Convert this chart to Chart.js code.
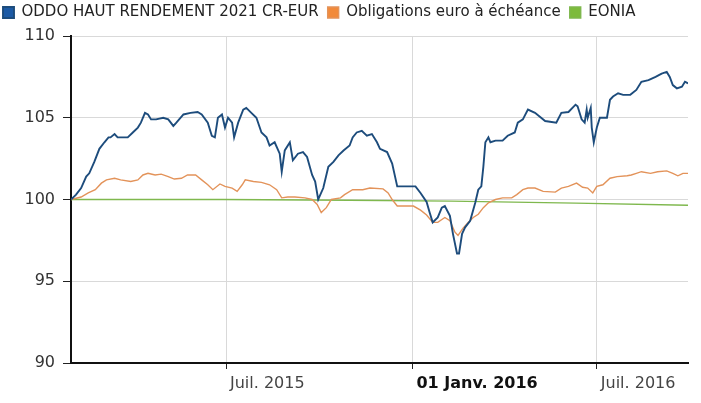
<!DOCTYPE html>
<html>
<head>
<meta charset="utf-8">
<script src="https://cdn.jsdelivr.net/npm/chart.js@4"></script>
<style>
  html, body { margin: 0; padding: 0; background: #fff; }
  #wrap { width: 701px; height: 403px; }
</style>
</head>
<body>
<div id="wrap"><canvas id="perfChart" width="701" height="403"></canvas></div>
<script>
// days counted from 29 Jan 2015
const tickDays = [153, 337, 519];
const tickLabels = ['Juil. 2015', '01 Janv. 2016', 'Juil. 2016'];

const oddoDays = [0, 5, 10, 15, 18, 23, 28, 33, 37, 39, 43, 46, 49, 56, 61, 66, 69, 73, 76, 79, 84, 91, 96, 101, 104, 111, 118, 125,
    129, 135, 139, 142, 145, 149, 152, 155, 159, 161, 165, 170, 173, 178, 183, 188, 193, 196, 201, 206, 208, 211, 216, 219, 224, 229,
    233, 238, 241, 244, 249, 254, 259, 264, 269, 275, 278, 282, 287, 292, 297, 302, 305, 312, 317, 322, 331, 340, 345, 351, 354, 357,
    362, 366, 369, 374, 377, 381, 383, 386, 389, 394, 399, 402, 405, 407, 409, 412, 414, 419, 426, 431, 438, 441, 446, 451, 458, 468,
    479, 484, 491, 498, 500, 504, 507, 509, 510, 513, 514, 516, 519, 522, 529, 532, 535, 540, 545, 552, 558, 563, 570, 577, 583, 588,
    591, 594, 598, 603, 606, 609];
const oddoValues = [100.0, 100.3, 100.7, 101.4, 101.6, 102.3, 103.1, 103.5, 103.8, 103.8, 104.0, 103.8, 103.8, 103.8, 104.1, 104.4,
    104.7, 105.3, 105.2, 104.9, 104.9, 105.0, 104.9, 104.5, 104.7, 105.2, 105.3, 105.35,
    105.2, 104.7, 103.9, 103.8, 105.0, 105.2, 104.4, 105.0, 104.7, 103.8, 104.7, 105.5, 105.6, 105.3, 105.0, 104.1, 103.8, 103.3, 103.5,
    102.8, 101.7, 103.0, 103.5, 102.4, 102.8, 102.9,
    102.6, 101.5, 101.1, 100.0, 100.7, 102.0, 102.3, 102.7, 103.0, 103.3, 103.8, 104.1, 104.2, 103.9, 104.0, 103.5, 103.1, 102.9, 102.2,
    100.8, 100.8, 100.8, 100.4, 99.85, 99.2, 98.6,
    98.9, 99.5, 99.6, 99.0, 97.9, 96.7, 96.7, 97.9, 98.3, 98.7, 99.8, 100.6, 100.8, 102.0, 103.5, 103.8, 103.5, 103.6, 103.6, 103.9,
    104.1, 104.7, 104.9, 105.5, 105.3, 104.8,
    104.7, 105.3, 105.35, 105.8, 105.7, 104.9, 104.7, 105.5, 105.0, 105.6, 104.4, 103.5, 104.4, 105.0, 105.0, 106.1, 106.3, 106.5,
    106.4, 106.4, 106.7, 107.2, 107.3, 107.5, 107.7, 107.8,
    107.5, 107.0, 106.8, 106.9, 107.2, 107.1];

const oblDays = [0, 10, 17, 24, 30, 35, 43, 49, 59, 66, 71, 76, 83, 89, 96, 102, 109, 115, 123, 129, 135, 140, 147, 152, 159, 164,
    169, 172, 180, 188, 196, 203, 208, 214, 221, 231, 238, 243, 247, 252, 257, 266, 270, 278, 288, 295, 308, 313, 317, 322, 331, 338,
    345, 351, 357, 362, 369, 374, 379, 382, 387, 392, 397, 402, 407, 412, 419, 426, 435, 440, 446, 451, 458, 466, 478, 484, 491, 499,
    505, 510, 515, 519, 525, 532, 539, 549, 553, 558, 563, 572, 579, 588, 594, 599, 604, 609];
const oblValues = [100.0, 100.15, 100.4, 100.6, 101.0, 101.2, 101.3, 101.2, 101.1, 101.2, 101.5, 101.6, 101.5, 101.55, 101.4, 101.25,
    101.3, 101.5, 101.5, 101.2, 100.9, 100.6, 100.95, 100.8, 100.7, 100.5,
    100.9, 101.2, 101.1, 101.05, 100.9, 100.6, 100.1, 100.15, 100.15, 100.1, 100.0, 99.7, 99.2, 99.5, 100.0, 100.1, 100.3, 100.6,
    100.6, 100.7, 100.65, 100.4, 100.0, 99.6, 99.6, 99.6,
    99.35, 99.05, 98.6, 98.6, 98.9, 98.7, 98.0, 97.8, 98.25, 98.6, 98.9, 99.1, 99.5, 99.8, 100.0, 100.1, 100.1, 100.3, 100.6, 100.7,
    100.7, 100.5, 100.45, 100.7, 100.8, 101.0,
    100.75, 100.7, 100.4, 100.8, 100.9, 101.3, 101.4, 101.45, 101.5, 101.6, 101.7, 101.6, 101.7, 101.75, 101.6, 101.45, 101.6, 101.6];

const eoniaDays = [0, 150, 275, 375, 498, 609];
const eoniaValues = [100.0, 100.0, 99.95, 99.9, 99.78, 99.65];

const yTicks = [90, 95, 100, 105, 110];

function toPoints(days, values) {
    return days.map((d, i) => ({ x: d, y: values[i] }));
}

// leave a gap between the legend row and the plot
const legendGap = {
    id: 'legendGap',
    afterInit(chart) {
        const legend = chart.legend;
        if (!legend) return;
        const fit = legend.fit;
        legend.fit = function() {
            fit.call(this);
            this.height += 6;
        };
    }
};

Chart.defaults.font.family = '"DejaVu Sans", Verdana, sans-serif';
Chart.defaults.color = '#333';

const ctx = document.getElementById('perfChart').getContext('2d');
const perfChart = new Chart(ctx, {
    type: 'line',
    data: {
        datasets: [{
            label: 'ODDO HAUT RENDEMENT 2021 CR-EUR',
            data: toPoints(oddoDays, oddoValues),
            borderColor: '#1d4c7c',
            backgroundColor: '#1c5aa5',
            borderWidth: 1.9,
            order: 1
        }, {
            label: 'Obligations euro à échéance',
            data: toPoints(oblDays, oblValues),
            borderColor: '#e3935a',
            backgroundColor: '#f28a3a',
            borderWidth: 1.4,
            order: 2
        }, {
            label: 'EONIA',
            data: toPoints(eoniaDays, eoniaValues),
            borderColor: '#7fb84e',
            backgroundColor: '#7dbb3c',
            borderWidth: 1.4,
            order: 3
        }]
    },
    plugins: [legendGap],
    options: {
        responsive: false,
        animation: false,
        elements: {
            point: { radius: 0 },
            line: { tension: 0 }
        },
        layout: { padding: { left: -6, right: 13, top: -4, bottom: 0 } },
        plugins: {
            tooltip: { enabled: false },
            legend: {
                position: 'top',
                align: 'start',
                labels: {
                    boxWidth: 11,
                    boxHeight: 11,
                    padding: 9,
                    color: '#222',
                    font: { size: 15 }
                }
            }
        },
        scales: {
            x: {
                type: 'linear',
                min: 0,
                max: 609,
                afterBuildTicks: scale => {
                    scale.ticks = tickDays.map(v => ({ value: v }));
                },
                afterFit: scale => { scale.height = 40; },
                ticks: {
                    autoSkip: false,
                    maxRotation: 0,
                    align: 'start',
                    labelOffset: 4,
                    padding: 5,
                    color: ctx => ctx.index === 1 ? '#111' : '#444',
                    font: ctx => ({ size: 16, weight: ctx.index === 1 ? 'bold' : 'normal' }),
                    callback: (value, index) => tickLabels[index]
                },
                grid: {
                    color: '#d9d9d9',
                    tickColor: '#222',
                    tickLength: 6,
                    lineWidth: 1
                },
                border: { color: '#111', width: 2 }
            },
            y: {
                min: 90,
                max: 110,
                afterBuildTicks: scale => {
                    scale.ticks = yTicks.map(v => ({ value: v }));
                },
                afterFit: scale => { scale.width = 77; },
                ticks: {
                    padding: 8,
                    color: '#333',
                    font: { size: 16 }
                },
                grid: {
                    color: '#d9d9d9',
                    tickColor: '#222',
                    tickLength: 8
                },
                border: { color: '#111', width: 2 }
            }
        }
    }
});
</script>
</body>
</html>
